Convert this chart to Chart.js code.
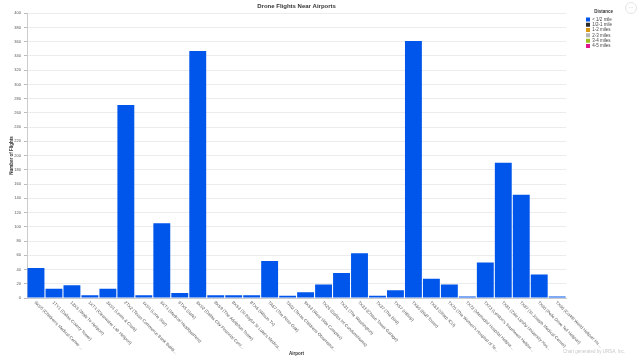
<!DOCTYPE html>
<html>
<head>
<meta charset="utf-8">
<script src="https://cdn.jsdelivr.net/npm/chart.js@4/dist/chart.umd.min.js"></script>
<style>
  html, body { margin: 0; padding: 0; background: #fff; }
  #wrap { position: relative; width: 640px; height: 361px; }
  #more {
    position: absolute; right: 3px; top: 2px; width: 10px; height: 10px;
    border: 1px solid #e4e4e4; border-radius: 50%;
    font: 5px "Liberation Sans", Arial, sans-serif; color: #aaa;
    text-align: center; line-height: 8px;
  }
</style>
</head>
<body>
<div id="wrap">
  <canvas id="chart" width="640" height="361"></canvas>
  <div id="more">&middot;&middot;&middot;</div>
</div>
<script>
// Airports along the x axis
const airports = [
  "9XS5 (Children's Medical Center Central)",
  '1TY1 (Dallas County Tower)',
  '13XS (Walk To Heliport)',
  '1XT4 (Clearwater Lab Heliport)',
  '3XS1 (Lewis & Clark)',
  '2TX2 (Texas Commerce Bank Building)',
  '4XS4 (Lone Star)',
  '6XT4 (Medical Headquarters)',
  '6TX5 (Safe)',
  '6XS2 (Dallas City Financial Center)',
  '8XS9 (The Adolphus Tower)',
  "8XS3 (St Baylor St Luke's Medical Center)",
  '8TX6 (Wilson Tx)',
  'TA67 (The Pinto Oak)',
  'TA02 (Texas Childrens Observatory)',
  '9XS3 (West Side Complex)',
  'TX26 (Dallas Int Condominiums)',
  'TX31 (The Washington)',
  'TX33 (Chase Tower Garage)',
  'TX37 (The Bird)',
  'TX57 (Hilltop)',
  'TX60 (Bluff Tower)',
  'TX63 (Sharp ICU)',
  "TX70 (The Women's Hospital of Texas)",
  'TX72 (Methodist Hospital Heliport)',
  "TX73 (Lyndon's Southwest Heliport)",
  'TX81 (Zale Lipshy University Hospital)',
  'TX87 (St Joseph Medical Center)',
  'TX90 (Pelle Drive Tell Heliport)',
  'TX96 (Corkill World Heliport Inc)'
];

// Flights by distance band (only the closest band has flights)
const distanceBands = ['< 1/2 mile', '1/2-1 mile', '1-2 miles', '2-3 miles', '3-4 miles', '4-5 miles'];
const bandColors = ['#0055eb', '#2b2b2b', '#d99a12', '#b4b4b4', '#9fbf1e', '#e0148c'];
const flightsHalfMile = [42, 13, 18, 4, 13, 271, 4, 105, 7, 347, 4, 4, 4, 52, 3, 8, 19, 35, 63, 3, 11, 361, 27, 19, 2, 50, 190, 145, 33, 2];
const flightsOneMile = [];
const flightsTwoMiles = [];
const flightsThreeMiles = [];
const flightsFourMiles = [];
const flightsFiveMiles = [];
const bandValues = [flightsHalfMile, flightsOneMile, flightsTwoMiles, flightsThreeMiles, flightsFourMiles, flightsFiveMiles];

// y axis ticks
const yMax = 400;
const yStep = 20;

const FONT = '"Liberation Sans", Arial, Helvetica, sans-serif';

function shortLabel(label) {
  return label.length > 32 ? label.slice(0, 32) + '...' : label;
}

// x labels run down to the right from each tick, so draw them here
const slantedLabels = {
  id: 'slantedLabels',
  afterDraw(chart) {
    const ctx = chart.ctx;
    const xScale = chart.scales.x;
    ctx.save();
    ctx.font = '4.3px ' + FONT;
    ctx.fillStyle = '#555';
    ctx.textAlign = 'left';
    ctx.textBaseline = 'middle';
    xScale.ticks.forEach((tick, i) => {
      const x = xScale.getPixelForTick(i);
      ctx.save();
      ctx.translate(x - 1, xScale.top + 4);
      ctx.rotate(Math.PI / 4);
      ctx.fillText(shortLabel(airports[i]), 0, 0);
      ctx.restore();
    });
    // credit line
    ctx.font = '4.5px ' + FONT;
    ctx.fillStyle = '#c8c8c8';
    ctx.textAlign = 'right';
    ctx.fillText('Chart generated by URSA, Inc.', 625, 352);
    ctx.restore();
  }
};

const datasets = distanceBands.map((band, i) => ({
  label: band,
  data: bandValues[i],
  backgroundColor: bandColors[i],
  borderColor: bandColors[i],
  borderWidth: 0,
  categoryPercentage: 1,
  barPercentage: 0.94
}));

new Chart(document.getElementById('chart'), {
  type: 'bar',
  data: { labels: airports, datasets: datasets },
  plugins: [slantedLabels],
  options: {
    responsive: false,
    animation: false,
    layout: { padding: { left: 5, right: 18, top: 0, bottom: 5 } },
    plugins: {
      title: {
        display: true,
        fullSize: false,
        text: 'Drone Flights Near Airports',
        color: '#333',
        font: { family: FONT, size: 6, weight: 'bold' },
        padding: { top: 3, bottom: 3 }
      },
      legend: {
        position: 'right',
        align: 'start',
        title: {
          display: true,
          text: 'Distance',
          color: '#333',
          font: { family: FONT, size: 4.5, weight: 'bold' },
          padding: { top: 10, bottom: 1 }
        },
        labels: {
          boxWidth: 4,
          boxHeight: 4,
          padding: 0.8,
          color: '#444',
          font: { family: FONT, size: 4.5 }
        }
      },
      tooltip: { enabled: false }
    },
    scales: {
      x: {
        stacked: true,
        grid: { display: false },
        border: { color: '#ccc' },
        afterFit: (s) => { s.height = 58; },
        ticks: { display: false, autoSkip: false },
        title: {
          display: true,
          text: 'Airport',
          color: '#333',
          font: { family: FONT, size: 4.5, weight: 'bold' },
          padding: { top: 0, bottom: 0 }
        }
      },
      y: {
        stacked: true,
        min: 0,
        max: yMax,
        afterFit: (s) => { s.width = 22; },
        ticks: {
          stepSize: yStep,
          color: '#555',
          padding: 3,
          font: { family: FONT, size: 4 }
        },
        grid: { color: '#ececec', tickLength: 3, tickColor: '#bbb' },
        border: { color: '#ccc' },
        title: {
          display: true,
          text: 'Number of Flights',
          color: '#333',
          font: { family: FONT, size: 4.5, weight: 'bold' },
          padding: { top: 4, bottom: 0 }
        }
      },
      // empty spacer between the plot and the legend
      gap: {
        type: 'linear',
        position: 'right',
        display: true,
        grid: { display: false },
        border: { display: false },
        ticks: { display: false },
        afterFit: (s) => { s.width = 19; }
      }
    }
  }
});
</script>
</body>
</html>
